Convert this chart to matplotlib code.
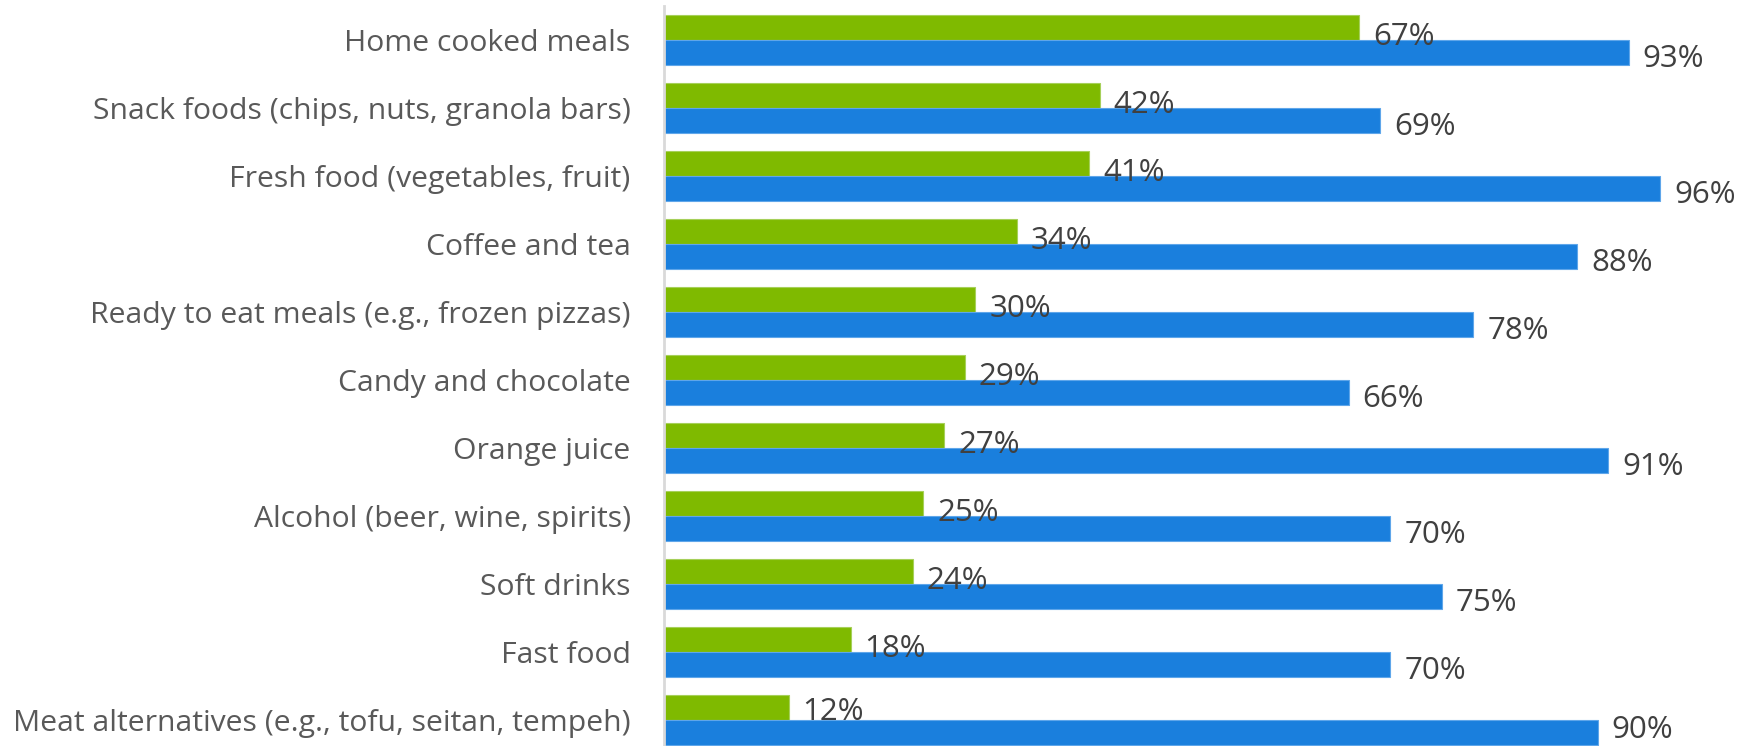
import matplotlib
matplotlib.use("Agg")
import matplotlib.pyplot as plt

categories = [
    "Home cooked meals",
    "Snack foods (chips, nuts, granola bars)",
    "Fresh food (vegetables, fruit)",
    "Coffee and tea",
    "Ready to eat meals (e.g., frozen pizzas)",
    "Candy and chocolate",
    "Orange juice",
    "Alcohol (beer, wine, spirits)",
    "Soft drinks",
    "Fast food",
    "Meat alternatives (e.g., tofu, seitan, tempeh)",
]
green_values = [67, 42, 41, 34, 30, 29, 27, 25, 24, 18, 12]
blue_values = [93, 69, 96, 88, 78, 66, 91, 70, 75, 70, 90]

GREEN = "#7FBA00"
BLUE = "#1A7FDD"
TEXT = "#595959"
LABEL = "#404040"

plt.rcParams['font.family'] = ['Open Sans', 'DejaVu Sans']

fig = plt.figure(figsize=(17.42, 7.46), dpi=100)
ax = fig.add_axes([664/1742, -8/746, (1742-664)/1742, 748/746])

h = 0.368
ys = list(range(len(categories)))
gy = [y - h/2 for y in ys]
by = [y + h/2 for y in ys]
ax.barh(gy, green_values, height=h, color=GREEN, edgecolor="#A6D05A", linewidth=0.8)
ax.barh(by, blue_values, height=h, color=BLUE, edgecolor="#5FA6EA", linewidth=0.8)

n = len(categories)
for i, (y, v) in enumerate(zip(gy, green_values)):
    dy = -6.5 if i < n - 1 else -3
    ax.annotate(f"{v}%", (v, y), xytext=(10, dy), textcoords="offset points",
                va="center", ha="left", fontsize=22.5, color=LABEL)
for i, (y, v) in enumerate(zip(by, blue_values)):
    dy = -5 if i < n - 1 else 1.5
    ax.annotate(f"{v}%", (v, y), xytext=(10, dy), textcoords="offset points",
                va="center", ha="left", fontsize=22.5, color=LABEL)

ax.set_xlim(0, 103.9)
ax.set_ylim(n - 0.5, -0.5)
ax.set_yticks(ys)
ax.set_yticklabels(categories, fontsize=21.7, color=TEXT)
ax.tick_params(axis="y", length=0, pad=24)
ax.set_xticks([])
for s in ["top", "right", "bottom"]:
    ax.spines[s].set_visible(False)
ax.spines["left"].set_color("#D9D9D9")
ax.spines["left"].set_linewidth(2)

fig.savefig("out.png", dpi=100)
